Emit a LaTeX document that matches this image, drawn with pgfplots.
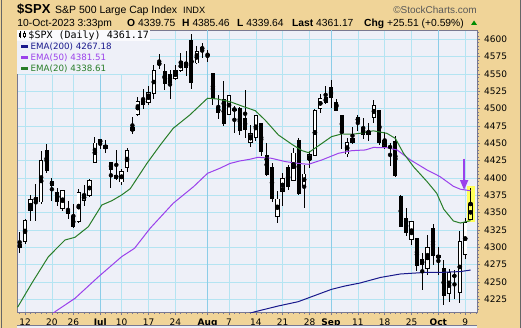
\documentclass[border=0pt]{standalone}
\usepackage{pgfplots}
\pgfplotsset{compat=1.18}
\usepackage{pgfplotstable}
\usetikzlibrary{arrows.meta}
\usepackage{fontspec}
\setmainfont{DejaVu Sans}
\newfontfamily\monofont{DejaVu Sans Mono}
\newfontfamily\arial{Liberation Sans}

\definecolor{tanbg}{RGB}{240,212,152}
\definecolor{plotbg}{RGB}{238,240,248}
\definecolor{gridc}{RGB}{180,228,242}
\definecolor{monthc}{RGB}{140,205,232}
\definecolor{emagreen}{RGB}{40,125,40}
\definecolor{emapurple}{RGB}{155,65,235}
\definecolor{emanavy}{RGB}{25,25,140}
\definecolor{framec}{RGB}{120,120,145}
\definecolor{hlyellow}{RGB}{255,255,90}
\definecolor{upgreen}{RGB}{0,140,0}

% i = trading day index (0 = 12 Jun 2023)
\pgfplotstableread{
i o h l c
-1 4304.88 4322.62 4291.70 4298.86
0 4308.32 4340.13 4304.37 4338.93
1 4352.61 4375.37 4337.54 4369.01
2 4366.29 4391.82 4337.85 4372.59
3 4365.33 4439.20 4362.60 4425.84
4 4440.95 4448.47 4407.44 4409.59
5 4396.11 4400.15 4367.19 4388.71
6 4380.01 4386.22 4360.14 4365.69
7 4355.40 4382.25 4351.82 4381.89
8 4354.17 4366.55 4341.34 4348.33
9 4344.84 4362.06 4328.08 4328.82
10 4337.36 4384.42 4335.00 4378.41
11 4367.48 4390.35 4360.22 4376.86
12 4374.94 4398.39 4371.97 4396.44
13 4422.44 4458.48 4422.44 4450.38
14 4450.48 4456.46 4442.29 4455.59
15 4442.04 4454.06 4436.61 4446.82
16 4422.62 4422.62 4385.05 4411.59
17 4404.54 4440.39 4397.40 4398.95
18 4394.23 4412.60 4389.92 4409.53
19 4415.55 4443.64 4408.46 4439.26
20 4467.69 4488.34 4463.23 4472.16
21 4491.50 4517.38 4489.36 4510.04
22 4514.61 4527.76 4499.56 4505.42
23 4508.86 4532.85 4504.90 4522.79
24 4521.78 4562.30 4514.59 4554.98
25 4563.87 4578.43 4557.48 4565.72
26 4554.38 4564.74 4527.56 4534.87
27 4550.16 4555.00 4514.59 4536.34
28 4543.39 4563.41 4541.29 4554.64
29 4555.19 4580.62 4552.42 4567.46
30 4558.96 4582.47 4547.58 4566.75
31 4598.26 4607.07 4528.56 4537.41
32 4565.75 4590.16 4564.01 4582.23
33 4584.82 4594.22 4573.14 4588.96
34 4578.83 4584.62 4567.53 4576.73
35 4550.93 4550.93 4505.75 4513.39
36 4494.27 4519.49 4485.54 4501.89
37 4513.96 4540.34 4474.55 4478.03
38 4491.58 4519.84 4491.15 4518.44
39 4498.03 4503.31 4464.39 4499.38
40 4501.57 4502.44 4461.33 4467.71
41 4487.16 4527.37 4457.92 4468.83
42 4450.69 4476.23 4443.98 4464.05
43 4458.13 4490.33 4453.44 4489.72
44 4478.87 4478.87 4432.19 4437.86
45 4433.79 4449.95 4403.55 4404.33
46 4416.32 4421.17 4364.83 4370.36
47 4344.88 4381.82 4335.31 4369.71
48 4380.28 4407.55 4360.30 4399.77
49 4415.33 4418.59 4382.77 4387.55
50 4396.44 4443.18 4396.44 4436.01
51 4455.16 4458.30 4375.55 4376.31
52 4389.38 4418.46 4356.29 4405.71
53 4426.03 4439.56 4414.98 4433.31
54 4432.75 4500.14 4431.68 4497.63
55 4500.34 4521.65 4493.59 4514.87
56 4517.01 4532.26 4507.39 4507.66
57 4530.60 4541.25 4501.35 4515.77
58 4510.06 4514.29 4496.01 4496.83
59 4490.35 4490.35 4442.38 4465.48
60 4434.55 4457.81 4430.46 4451.14
61 4451.30 4473.53 4448.38 4457.49
62 4480.98 4490.77 4467.89 4487.46
63 4473.27 4487.11 4456.83 4461.90
64 4462.65 4479.39 4453.52 4467.44
65 4487.78 4511.99 4478.69 4505.10
66 4497.98 4497.98 4447.21 4450.32
67 4445.13 4466.36 4442.11 4453.53
68 4445.41 4449.85 4416.61 4443.95
69 4452.81 4461.03 4401.38 4402.20
70 4374.36 4375.70 4329.17 4330.00
71 4341.74 4357.40 4316.49 4320.06
72 4310.62 4338.51 4302.70 4337.44
73 4312.88 4313.01 4265.98 4273.53
74 4282.63 4292.07 4238.63 4274.51
75 4269.65 4317.27 4260.21 4299.70
76 4328.18 4333.15 4274.86 4288.05
77 4284.52 4300.58 4260.21 4288.39
78 4269.75 4281.15 4216.45 4229.45
79 4233.83 4268.50 4220.48 4263.75
80 4259.31 4267.13 4225.91 4258.19
81 4234.79 4324.10 4219.55 4308.50
82 4289.02 4341.73 4283.79 4335.66
83 4339.75 4385.46 4339.64 4361.17
}\ohlc

\pgfplotstableread{
i v
-1.5 4213.5
-1.25 4215.4
1.24 4248
4.35 4286.5
7.45 4310.6
9.3 4314.4
11.8 4329.8
14.3 4361
16.2 4367.3
18 4375.5
19.6 4384.5
22.7 4421
25.2 4447.6
27.6 4471.6
30.7 4490.9
34 4515
35.7 4514
38.2 4510
40.7 4502.9
42.9 4497
44.7 4483.7
47.2 4462
49.7 4448.6
51.6 4439.4
52.8 4436.5
54.7 4446.6
57.1 4459.6
59 4463.5
60.9 4463
62.4 4464.4
64.9 4468
67.4 4464.4
69 4457
70.5 4435.6
72.4 4416
74.9 4394.7
76.7 4377.9
78 4355
79.8 4338
81.1 4335
83 4338.6
}\emaTwenty

\pgfplotstableread{
i v
4 4196
5.6 4207.2
9.3 4226.4
13.7 4257.7
18 4286.5
20.4 4298.6
23.3 4327.4
27.6 4363.5
31.4 4387.5
34 4406.7
36.3 4414
38.2 4421
40 4424.5
41.9 4427
43.4 4429.8
45.9 4428.4
48.5 4423.6
50.9 4421
52.8 4419.7
55.3 4426
58.4 4435.6
60.9 4439.4
63.4 4440.4
64.9 4444
67.4 4443.7
69.3 4440.4
71.8 4426
74.9 4411.5
77.3 4402
79.8 4388
81.1 4383.8
83 4381.5
}\emaFifty

\pgfplotstableread{
i v
41 4203
42.9 4207.2
47.2 4215.4
50.9 4221.6
53.4 4228.8
57.1 4239.4
59.6 4244.2
62.4 4248.5
66.2 4256.5
69.9 4261.5
74.9 4264
78 4264
81.1 4265
83 4267.2
}\emaTwoHundred

\begin{document}
\begin{tikzpicture}
\useasboundingbox (0,0) rectangle (521bp,328bp);
\fill[tanbg] (0,0) rectangle (521bp,328bp);
\begin{axis}[
  at={(17bp,16bp)}, anchor=south west,
  width=460bp, height=282bp, scale only axis,
  xmin=-1.5, xmax=84.2, ymin=4206.7, ymax=4613.4,
  axis background/.style={fill=plotbg},
  axis line style={framec, line width=0.8bp},
  grid=major,
  major grid style={gridc, line width=0.6bp},
  xtick={0,5,9,14,18,23,28,34,38,43,48,53,57,62,67,72,77,82},
  xticklabels={12,20,26,\textbf{Jul},10,17,24,\textbf{Aug},7,14,21,28,\textbf{Sep},11,18,25,\textbf{Oct},9},
  ytick={4225,4250,...,4600},
  ytick pos=right, yticklabel pos=right,
  xtick pos=bottom,
  tick align=outside,
  major tick length=3bp,
  minor tick length=1.5bp,
  tick style={framec, line width=0.6bp},
  minor xtick={-1,0,...,84},
  minor ytick={4210,4215,...,4610},
  /pgf/number format/1000 sep={},
  /pgf/number format/assume math mode=true,
  ticklabel style={font=\fontsize{9bp}{10bp}\selectfont, inner sep=0pt},
  xticklabel style={anchor=base, yshift=-10.5bp},
  yticklabel style={anchor=west, xshift=4bp},
  extra x ticks={14,34,57,77},
  extra x tick labels={},
  extra x tick style={major grid style={monthc, line width=1bp}, major tick length=0pt},
]
% highlight of last candle
\addplot[only marks, mark=none, restrict x to domain=82.5:84,
  error bars/.cd, y dir=both, y explicit, error mark=none,
  error bar style={hlyellow, line width=8bp}]
  table[x=i, y expr={(\thisrow{h}+\thisrow{l})/2}, y error expr={(\thisrow{h}-\thisrow{l})/2+2.5}] {\ohlc};
% wicks
\addplot[only marks, mark=none,
  error bars/.cd, y dir=both, y explicit, error mark=none,
  error bar style={black, line width=0.9bp}]
  table[x=i, y expr={(\thisrow{h}+\thisrow{l})/2}, y error expr={(\thisrow{h}-\thisrow{l})/2}] {\ohlc};
% down bodies (filled)
\addplot[only marks, mark=none, restrict expr to domain={\thisrow{o}-\thisrow{c}}{0:1000},
  error bars/.cd, y dir=both, y explicit, error mark=none,
  error bar style={black, line width=4bp}]
  table[x=i, y expr={(\thisrow{o}+\thisrow{c})/2}, y error expr={max((\thisrow{o}-\thisrow{c})/2,0.75)}] {\ohlc};
% up bodies (hollow) outline
\addplot[only marks, mark=none, restrict expr to domain={\thisrow{c}-\thisrow{o}}{0.001:1000},
  error bars/.cd, y dir=both, y explicit, error mark=none,
  error bar style={black, line width=4.4bp}]
  table[x=i, y expr={(\thisrow{o}+\thisrow{c})/2}, y error expr={(\thisrow{c}-\thisrow{o})/2+0.65}] {\ohlc};
% up bodies inner
\addplot[only marks, mark=none, restrict x to domain=-2:82.5, restrict expr to domain={\thisrow{c}-\thisrow{o}}{0.001:1000},
  error bars/.cd, y dir=both, y explicit, error mark=none,
  error bar style={white, line width=2.6bp}]
  table[x=i, y expr={(\thisrow{o}+\thisrow{c})/2}, y error expr={max((\thisrow{c}-\thisrow{o})/2-0.65,0)}] {\ohlc};
\addplot[only marks, mark=none, restrict x to domain=82.5:84,
  error bars/.cd, y dir=both, y explicit, error mark=none,
  error bar style={hlyellow, line width=2.6bp}]
  table[x=i, y expr={(\thisrow{o}+\thisrow{c})/2}, y error expr={max((\thisrow{c}-\thisrow{o})/2-0.65,0)}] {\ohlc};
% EMAs
\addplot[emanavy, line width=1bp, mark=none] table[x=i, y=v] {\emaTwoHundred};
\addplot[emapurple, line width=1bp, mark=none] table[x=i, y=v] {\emaFifty};
\addplot[emagreen, line width=1bp, mark=none] table[x=i, y=v] {\emaTwenty};
% arrow annotation
\draw[emapurple, line width=1.6bp, -{Triangle[width=8bp,length=10bp]}] (axis cs:81.8,4428) -- (axis cs:81.8,4382.6);
\end{axis}
\begin{scope}[x=1bp,y=1bp]
% outer borders
\draw[black!60, line width=1bp] (1,0) -- (1,328);
\draw[black!60, line width=1bp] (520,0) -- (520,328);
% lower panel top
\fill[plotbg] (17,0) rectangle (477,3);
\draw[framec, line width=0.8bp] (17,3) -- (477,3);
% legend area
\fill[white!70!plotbg] (17.4,287) rectangle (150,297.6);
\fill[plotbg] (17.4,254) rectangle (150,287);
% candle icon
\draw[black, line width=0.6bp] (20,289.5) -- (20,296.5);
\fill[black] (19,291) rectangle (21,295);
\draw[black, line width=0.6bp] (24,289.5) -- (24,296.5);
\draw[black, line width=0.6bp, fill=white] (23,291.5) rectangle (25,295);
\node[anchor=base west, inner sep=0pt] at (28.3,289.5) {\monofont\fontsize{10bp}{11bp}\selectfont \$SPX (Daily) 4361.17};
\draw[emanavy, line width=2.2bp] (21,281.5) -- (28.3,281.5);
\node[anchor=base west, inner sep=0pt, text=emanavy] at (30.5,279) {\fontsize{8.7bp}{10bp}\selectfont EMA(200) 4267.18};
\draw[emapurple, line width=2.2bp] (21,270.5) -- (28.3,270.5);
\node[anchor=base west, inner sep=0pt, text=emapurple] at (30.5,268) {\fontsize{8.7bp}{10bp}\selectfont EMA(50) 4381.51};
\draw[emagreen, line width=2.2bp] (21,259.5) -- (28.3,259.5);
\node[anchor=base west, inner sep=0pt, text=emagreen] at (30.5,257) {\fontsize{8.7bp}{10bp}\selectfont EMA(20) 4338.61};
% header
\node[anchor=base west, inner sep=0pt] at (17,314.3) {\arial\bfseries\fontsize{13bp}{14bp}\selectfont \$SPX};
\node[anchor=base west, inner sep=0pt] at (55,314.3) {\arial\fontsize{10.5bp}{12bp}\selectfont S\&P 500 Large Cap Index};
\node[anchor=base west, inner sep=0pt] at (183,314.3) {\arial\fontsize{9.2bp}{11bp}\selectfont INDX};
\node[anchor=base east, inner sep=0pt, text=black!65] at (477,314.3) {\arial\fontsize{10bp}{12bp}\selectfont \textcopyright StockCharts.com};
\node[anchor=base west, inner sep=0pt] at (17.3,302) {\arial\fontsize{10.3bp}{12bp}\selectfont 10-Oct-2023 3:33pm};
\node[anchor=base west, inner sep=0pt] at (127,302) {\arial\fontsize{10.3bp}{12bp}\selectfont\textbf{O} 4339.75};
\node[anchor=base west, inner sep=0pt] at (182,302) {\arial\fontsize{10.3bp}{12bp}\selectfont\textbf{H} 4385.46};
\node[anchor=base west, inner sep=0pt] at (237,302) {\arial\fontsize{10.3bp}{12bp}\selectfont\textbf{L} 4339.64};
\node[anchor=base west, inner sep=0pt] at (292,302) {\arial\fontsize{10.3bp}{12bp}\selectfont\textbf{Last} 4361.17};
\node[anchor=base west, inner sep=0pt] at (364,302) {\arial\fontsize{10.3bp}{12bp}\selectfont\textbf{Chg} +25.51 (+0.59\%)};
\fill[upgreen] (471,303) -- (477,303) -- (474,307.5) -- cycle;
\end{scope}
\end{tikzpicture}
\end{document}
